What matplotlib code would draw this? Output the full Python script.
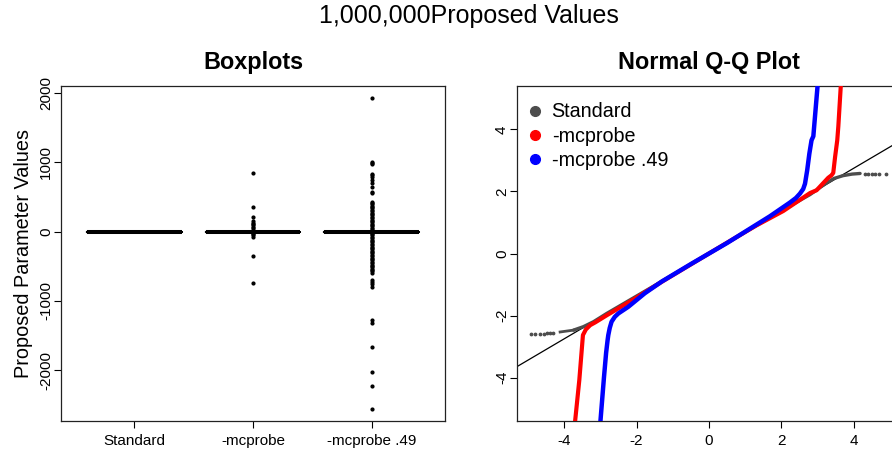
'''
Boxplots and normal Q-Q plot of 1,000,000 proposed parameter values
'''
import numpy as np
import matplotlib
matplotlib.use("Agg")
import matplotlib.pyplot as plt
from matplotlib.lines import Line2D

plt.rcParams['font.family'] = ['Liberation Sans', 'DejaVu Sans']
plt.rcParams['axes.unicode_minus'] = False

# Boxplot data
groups = ["Standard", "-mcprobe", "-mcprobe .49"]
box_q1 = [-0.67, -0.67, -0.67]
box_med = [0.0, 0.0, 0.0]
box_q3 = [0.67, 0.67, 0.67]
box_lo = [-2.6, -2.6, -2.6]
box_hi = [2.6, 2.6, 2.6]
fliers_standard = []
fliers_mcprobe = [844, 361, 217, 150, 130, 110, 90, 70, 50, 30, 15, -15, -30, -50, -72, -347, -741]
fliers_mcprobe49 = [1928, 1012, 995, 978, 834, 815, 795, 747, 699, 641, 578, 559,
                    434, 415, 395, 375, 355, 335, 315, 295, 275, 255, 235, 215, 195,
                    175, 155, 135, 115, 95, 75, 55, 35, 15, -15, -35, -55, -75, -95,
                    -115, -135, -155, -175, -195, -215, -235, -255, -275, -295, -315,
                    -335, -355, -375, -395, -415, -435, -455, -475, -495, -515, -535,
                    -555, -575, -601, -700, -723, -757, -795, -1277, -1316, -1673,
                    -2024, -2232, -2564]
all_fliers = [fliers_standard, fliers_mcprobe, fliers_mcprobe49]

# Q-Q curves: (theoretical quantile, sample quantile)
std_x = [-3.74, -3.47, -3.19, -2.82, -1.63, -1.0, 0.0, 1.0, 1.96, 2.79, 3.24, 3.45, 3.70, 3.95, 4.17]
std_y = [-2.47, -2.36, -2.20, -1.93, -1.12, -0.69, 0.0, 0.69, 1.35, 1.90, 2.27, 2.42, 2.51, 2.56, 2.58]
std_lo_x = [-4.11, -3.74]
std_lo_y = [-2.53, -2.47]
std_dots_x = [-4.92, -4.80, -4.66, -4.55, -4.48, -4.40, -4.30, 4.30, 4.40, 4.50, 4.58, 4.70, 4.88]
std_dots_y = [-2.60, -2.59, -2.58, -2.58, -2.57, -2.57, -2.56, 2.57, 2.57, 2.57, 2.57, 2.56, 2.56]

mc_x = [-3.70, -3.58, -3.48, -3.40, -3.28, -3.14, -2.82, -2.0, -1.30, -0.5, 0.0, 0.5,
        1.30, 2.05, 2.79, 2.97, 3.29, 3.38, 3.43, 3.48, 3.54, 3.57, 3.64]
mc_y = [-5.45, -4.08, -2.63, -2.45, -2.31, -2.22, -1.99, -1.42, -0.91, -0.35, 0.0, 0.35,
        0.90, 1.37, 1.95, 2.04, 2.44, 2.52, 2.60, 3.11, 3.65, 4.10, 5.45]

mc49_x = [-3.00, -2.90, -2.84, -2.80, -2.78, -2.74, -2.69, -2.60, -2.50, -2.23, -2.00,
          -1.77, -1.30, -0.5, 0.0, 0.5, 1.13, 1.68, 2.23, 2.40, 2.51, 2.60, 2.65, 2.71,
          2.77, 2.83, 2.88, 3.00]
mc49_y = [-5.45, -4.00, -3.20, -2.80, -2.63, -2.40, -2.20, -2.04, -1.93, -1.72, -1.50,
          -1.28, -0.90, -0.34, 0.0, 0.34, 0.80, 1.20, 1.64, 1.79, 1.93, 2.08, 2.25, 2.68,
          3.22, 3.65, 3.78, 5.45]

qq_slope = 0.688

fig = plt.figure(figsize=(8.92, 4.55), dpi=100)
fig.text(469 / 892, 0.965, "1,000,000Proposed Values", ha="center", va="center", fontsize=18)

# Boxplots
ax1 = fig.add_axes([0.0684, 0.0747, 0.4305, 0.7363])
stats = []
for i in range(len(groups)):
    stats.append(dict(med=box_med[i], q1=box_q1[i], q3=box_q3[i],
                      whislo=box_lo[i], whishi=box_hi[i], fliers=all_fliers[i]))
ax1.bxp(stats, positions=[1, 2, 3], widths=0.8, showcaps=False,
        boxprops=dict(color="black", linewidth=1.5),
        medianprops=dict(color="black", linewidth=2.9, solid_capstyle="butt"),
        whiskerprops=dict(color="black", linewidth=1),
        flierprops=dict(marker="o", markersize=2, markerfacecolor="black",
                        markeredgecolor="black", linestyle="none"))
ax1.set_xlim(0.38, 3.62)
ax1.set_ylim(-2737, 2105)
ax1.set_xticks([1, 2, 3])
ax1.set_xticklabels(groups)
ax1.set_yticks([-2000, -1000, 0, 1000, 2000])
ax1.set_yticklabels(["-2000", "-1000", "0", "1000", "2000"], rotation=90, va="center")
ax1.set_ylabel("Proposed Parameter Values", fontsize=14.3, labelpad=4)
ax1.set_title("Boxplots", fontweight="bold", fontsize=16.8, pad=12)

# Normal Q-Q plot
ax2 = fig.add_axes([0.5796, 0.0747, 0.4305, 0.7363])
ax2.axline((0, 0), slope=qq_slope, color="black", linewidth=0.9, zorder=1)
ax2.plot(std_x, std_y, color="#4D4D4D", linewidth=2.4, solid_capstyle="round", zorder=2)
ax2.plot(std_lo_x, std_lo_y, color="#4D4D4D", linewidth=2.0, zorder=2)
ax2.scatter(std_dots_x, std_dots_y, s=3, color="#4D4D4D", zorder=2)
ax2.plot(mc_x, mc_y, color="#FF0000", linewidth=3.0, zorder=3)
ax2.plot(mc49_x, mc49_y, color="#0000FF", linewidth=3.2, zorder=4)
ax2.set_xlim(-5.3, 5.3)
ax2.set_ylim(-5.4, 5.4)
ax2.set_xticks([-4, -2, 0, 2, 4])
ax2.set_yticks([-4, -2, 0, 2, 4])
ax2.set_yticklabels(["-4", "-2", "0", "2", "4"], rotation=90, va="center")
ax2.set_title("Normal Q-Q Plot", fontweight="bold", fontsize=16.8, pad=12)
handles = [Line2D([], [], marker="o", linestyle="none", color=c, markersize=7)
           for c in ["#4D4D4D", "#FF0000", "#0000FF"]]
ax2.legend(handles, ["Standard", "-mcprobe", "-mcprobe .49"], loc="upper left",
           bbox_to_anchor=(0.026, 0.951), frameon=False, fontsize=14.2,
           handletextpad=0.45, labelspacing=0.27, borderaxespad=0, borderpad=0,
           handlelength=0.8)

for ax in [ax1, ax2]:
    for s in ax.spines.values():
        s.set_linewidth(0.9)
        s.set_color("#222222")
    ax.tick_params(direction="out", length=5, width=0.8, labelsize=11, pad=4)
    ax.tick_params(axis="y", pad=0.8)

fig.savefig("out.png", dpi=100)
